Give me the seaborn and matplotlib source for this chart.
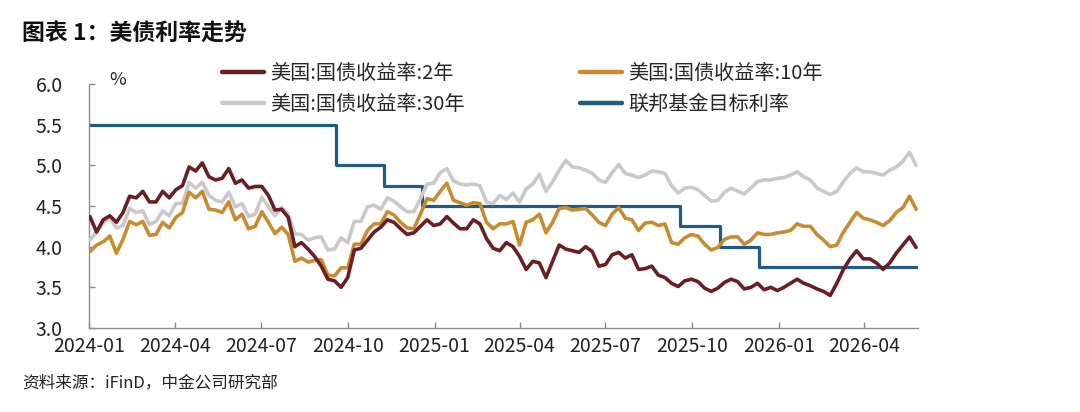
import matplotlib
matplotlib.use("Agg")
import matplotlib.pyplot as plt
from matplotlib.lines import Line2D
import pandas as pd
import seaborn as sns

# ---------------- data (weekly readings, Tuesdays from 2024-01-02) ----------------
start_date = "2024-01-02"
n_weeks = 126

ust_2y = [
    4.37, 4.18, 4.33, 4.38, 4.30,  4.42, 4.62, 4.60, 4.68,  4.55, 4.55, 4.68, 4.60,
    4.70, 4.75, 4.98, 4.93, 5.03,  4.86, 4.82, 4.84, 4.96,  4.78, 4.82, 4.72, 4.74,
    4.74, 4.63, 4.45, 4.46, 4.36,  4.00, 4.05, 3.97, 3.88,  3.76, 3.60, 3.58, 3.50,
    3.62, 3.96, 3.98, 4.08, 4.18,  4.24, 4.33, 4.30, 4.22,  4.15, 4.17, 4.25, 4.33, 4.26,
    4.28, 4.37, 4.29, 4.22,  4.22, 4.33, 4.28, 4.10,  3.98, 3.95, 4.05, 4.00,
    3.88, 3.72, 3.82, 3.80, 3.62,  3.82, 4.02, 3.97, 3.95,  3.93, 4.00, 3.94, 3.76,
    3.78, 3.90, 3.93, 3.86, 3.90,  3.72, 3.73, 3.76, 3.65,  3.62, 3.55, 3.51, 3.58, 3.60,
    3.57, 3.49, 3.45, 3.49,  3.56, 3.60, 3.57, 3.48,  3.50, 3.55, 3.47, 3.50, 3.46,
    3.50, 3.55, 3.60, 3.55,  3.52, 3.48, 3.45, 3.40,  3.55, 3.72, 3.85, 3.95, 3.85,
    3.85, 3.80, 3.72, 3.80,  3.92, 4.02, 4.12, 3.99,
]
ust_10y = [
    3.94, 4.02, 4.06, 4.13, 3.92,  4.09, 4.31, 4.27, 4.31,  4.14, 4.15, 4.30, 4.23,
    4.36, 4.42, 4.67, 4.60, 4.68,  4.46, 4.45, 4.42, 4.55,  4.33, 4.40, 4.22, 4.25,
    4.43, 4.30, 4.16, 4.24, 4.15,  3.82, 3.86, 3.81, 3.83,  3.84, 3.65, 3.64, 3.74,
    3.74, 4.03, 4.03, 4.20, 4.28,  4.28, 4.43, 4.39, 4.30,  4.23, 4.22, 4.40, 4.59, 4.57,
    4.68, 4.78, 4.57, 4.54,  4.51, 4.54, 4.53, 4.30,  4.22, 4.28, 4.28, 4.31,
    4.02, 4.30, 4.33, 4.40, 4.17,  4.30, 4.47, 4.48, 4.45,  4.46, 4.47, 4.39, 4.30,
    4.26, 4.40, 4.48, 4.35, 4.33,  4.20, 4.29, 4.30, 4.26,  4.28, 4.05, 4.03, 4.11, 4.15,
    4.13, 4.03, 3.96, 3.99,  4.09, 4.12, 4.12, 4.03,  4.08, 4.17, 4.15, 4.15, 4.17,
    4.18, 4.20, 4.28, 4.25,  4.25, 4.15, 4.08, 4.00,  4.02, 4.18, 4.30, 4.42, 4.35,
    4.33, 4.30, 4.26, 4.32,  4.42, 4.48, 4.62, 4.46,
]
ust_30y = [
    4.08, 4.18, 4.29, 4.36, 4.23,  4.26, 4.47, 4.42, 4.44,  4.27, 4.31, 4.44, 4.38,
    4.53, 4.53, 4.79, 4.72, 4.79,  4.63, 4.57, 4.55, 4.67,  4.49, 4.53, 4.37, 4.40,
    4.61, 4.49, 4.38, 4.48, 4.40,  4.16, 4.15, 4.08, 4.11,  4.12, 3.96, 3.97, 4.11,
    4.05, 4.31, 4.31, 4.49, 4.51,  4.46, 4.60, 4.56, 4.49,  4.43, 4.43, 4.59, 4.77, 4.78,
    4.91, 4.96, 4.81, 4.77,  4.76, 4.77, 4.75, 4.55,  4.53, 4.63, 4.58, 4.66,
    4.55, 4.71, 4.77, 4.89, 4.68,  4.80, 4.94, 5.06, 4.98,  4.97, 4.94, 4.90, 4.82,
    4.79, 4.91, 5.01, 4.90, 4.88,  4.85, 4.88, 4.93, 4.92,  4.90, 4.75, 4.66, 4.72, 4.73,
    4.70, 4.63, 4.56, 4.57,  4.67, 4.72, 4.68, 4.65,  4.72, 4.80, 4.82, 4.82, 4.84,
    4.85, 4.88, 4.92, 4.86,  4.82, 4.72, 4.68, 4.64,  4.68, 4.80, 4.90, 4.97, 4.92,
    4.92, 4.90, 4.88, 4.94,  4.98, 5.05, 5.16, 5.00,
]
fed_dates = ["2024-01-01", "2024-09-19", "2024-11-08", "2024-12-19",
             "2025-09-18", "2025-10-30", "2025-12-11", "2026-05-27"]
fed_target = [5.50, 5.00, 4.75, 4.50, 4.25, 4.00, 3.75, 3.75]

labels = ["美国:国债收益率:2年", "美国:国债收益率:10年",
          "美国:国债收益率:30年", "联邦基金目标利率"]
colors = ["#6B1E24", "#C98B2F", "#C9C9C9", "#215A82"]
y_ticks = [3.0, 3.5, 4.0, 4.5, 5.0, 5.5, 6.0]
x_tick_dates = ["2024-01-01", "2024-04-01", "2024-07-01", "2024-10-01", "2025-01-01",
                "2025-04-01", "2025-07-01", "2025-10-01", "2026-01-01", "2026-04-01"]
title = "图表 1：美债利率走势"
source = "资料来源：iFinD，中金公司研究部"

# ---------------- build frames ----------------
dates = pd.date_range(start_date, periods=n_weeks, freq="7D")
df = pd.DataFrame({"date": dates, "y2": ust_2y, "y10": ust_10y, "y30": ust_30y})
fed = pd.DataFrame({"date": pd.to_datetime(fed_dates), "rate": fed_target})

# ---------------- style ----------------
sns.set_theme(style="ticks")
plt.rcParams["font.family"] = ["Noto Sans CJK SC", "DejaVu Sans"]

fig = plt.figure(figsize=(10.8, 4.12), dpi=100)
ax = fig.add_axes([89 / 1080, 1 - 328 / 412, (918 - 89) / 1080, (328 - 84) / 412])

sns.lineplot(data=fed, x="date", y="rate", ax=ax, color=colors[3], lw=2.3,
             drawstyle="steps-post", zorder=2)
sns.lineplot(data=df, x="date", y="y30", ax=ax, color=colors[2], lw=2.6, zorder=3)
sns.lineplot(data=df, x="date", y="y10", ax=ax, color=colors[1], lw=2.6, zorder=4)
sns.lineplot(data=df, x="date", y="y2", ax=ax, color=colors[0], lw=2.6, zorder=5)

ax.set_xlim(pd.Timestamp("2024-01-01"), pd.Timestamp("2026-05-28"))
ax.set_ylim(3.0, 6.0)
ax.set_yticks(y_ticks)
ax.set_yticklabels([f"{v:.1f}" for v in y_ticks], fontsize=14, color="#222222")
xt = pd.to_datetime(x_tick_dates)
ax.set_xticks(xt)
ax.set_xticklabels([d.strftime("%Y-%m") for d in xt], fontsize=14, color="#222222")
ax.set_xlabel("")
ax.set_ylabel("")
for s in ["top", "right"]:
    ax.spines[s].set_visible(False)
for s in ["left", "bottom"]:
    ax.spines[s].set_color("#8C8C8C")
    ax.spines[s].set_linewidth(1.0)
ax.tick_params(axis="both", direction="in", length=4, width=1, color="#8C8C8C")
ax.tick_params(axis="y", pad=19)
ax.tick_params(axis="x", pad=6)

# legend: column 1 = 2Y, 30Y ; column 2 = 10Y, Fed
handles = [Line2D([0], [0], color=colors[i], lw=3.2) for i in (0, 2, 1, 3)]
leg_labels = [labels[i] for i in (0, 2, 1, 3)]
fig.legend(handles, leg_labels, loc="upper left", bbox_to_anchor=(222 / 1080, 1 - 63 / 412),
           ncol=2, frameon=False, fontsize=14.5, handlelength=2.1, handletextpad=0.3,
           columnspacing=5.7, labelspacing=0.5, borderaxespad=0, borderpad=0)

fig.text(118 / 1080, 1 - 80 / 412, "%", ha="center", va="center", fontsize=13, color="#222222")
fig.text(22 / 1080, 1 - 34 / 412, title, ha="left", va="center", fontsize=16.5,
         fontweight="bold", color="#111111")
fig.text(22 / 1080, 1 - 383 / 412, source, ha="left", va="center", fontsize=12,
         color="#222222")

fig.savefig("out.png", dpi=100)
